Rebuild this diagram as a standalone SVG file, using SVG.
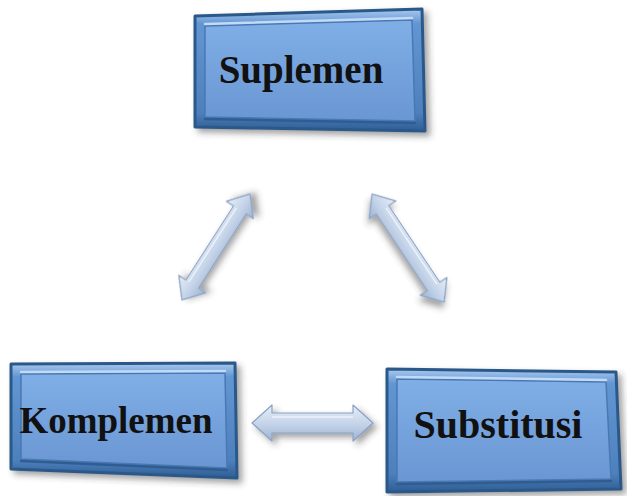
<svg xmlns="http://www.w3.org/2000/svg" width="627" height="496" viewBox="0 0 627 496">
  <defs>
    <linearGradient id="bevel" x1="0" y1="0" x2="0" y2="1">
      <stop offset="0" stop-color="#a9c9ef"/>
      <stop offset="0.12" stop-color="#6296d2"/>
      <stop offset="0.85" stop-color="#4d80bd"/>
      <stop offset="1" stop-color="#2f5d92"/>
    </linearGradient>
    <linearGradient id="face" x1="0" y1="0" x2="0" y2="1">
      <stop offset="0" stop-color="#80aee6"/>
      <stop offset="1" stop-color="#6a97d3"/>
    </linearGradient>
    <linearGradient id="arrowFill" x1="0" y1="0" x2="0" y2="1">
      <stop offset="0" stop-color="#e6eef8"/>
      <stop offset="0.5" stop-color="#c6d5ea"/>
      <stop offset="1" stop-color="#9fb4d2"/>
    </linearGradient>
    <filter id="shadow" x="-20%" y="-20%" width="140%" height="150%">
      <feDropShadow dx="4" dy="4" stdDeviation="3" flood-color="#333" flood-opacity="0.45"/>
    </filter>
  </defs>
  <style>
    .frame { fill: url(#bevel); stroke: #2c5889; stroke-width: 3; stroke-linejoin: round; filter: url(#shadow); }
    .face { fill: url(#face); stroke: #4a78b2; stroke-width: 1.5; stroke-linejoin: round; }
    .hi { fill: none; stroke: #c2daf5; stroke-width: 2.5; stroke-linecap: round; }
    .lo { fill: none; stroke: #2f5d92; stroke-width: 2.5; stroke-linecap: round; }
    .label { font-family: "Liberation Serif", "Times New Roman", serif; font-weight: bold; fill: #111; text-anchor: middle; }
    .arrow { fill: url(#arrowFill); stroke: #8aa2c3; stroke-width: 1.2; stroke-linejoin: round; filter: url(#shadow); }
    .ridge { fill: none; stroke: #f4f8fd; stroke-width: 1.5; opacity: 0.8; }
  </style>

  <g id="connectors">
    <!-- Suplemen <-> Komplemen -->
    <g transform="translate(182,300) rotate(-57.3)">
      <polygon class="arrow" points="0,0 19,-16 19,-7.5 107,-7.5 107,-16 126,0 107,16 107,7.5 19,7.5 19,16"/>
      <line class="ridge" x1="19" y1="-4" x2="107" y2="-4"/>
    </g>
    <!-- Suplemen <-> Substitusi -->
    <g transform="translate(372,194) rotate(56.3)">
      <polygon class="arrow" points="0,0 19,-16 19,-7.5 111,-7.5 111,-16 130,0 111,16 111,7.5 19,7.5 19,16"/>
      <line class="ridge" x1="19" y1="-4" x2="111" y2="-4"/>
    </g>
    <!-- Komplemen <-> Substitusi -->
    <g transform="translate(252,423)">
      <polygon class="arrow" points="0,0 20,-18 20,-10 101,-10 101,-18 121,0 101,18 101,10 20,10 20,18"/>
      <line class="ridge" x1="20" y1="-6" x2="101" y2="-6"/>
    </g>
  </g>

  <g id="suplemen">
    <polygon class="frame" points="195,16 422,9 425,131 195,127"/>
    <polygon class="face" points="205,26 412,20 415,121 205,117"/>
    <polyline class="hi" points="205,24 412,18"/>
    <polyline class="lo" points="205,119 415,123"/>
    <text class="label" x="301" y="83" font-size="39">Suplemen</text>
  </g>

  <g id="komplemen">
    <polygon class="frame" points="11,364 235,363 237,478 11,469"/>
    <polygon class="face" points="21,374 225,373 227,468 21,459"/>
    <polyline class="hi" points="21,372 225,371"/>
    <polyline class="lo" points="21,461 227,470"/>
    <text class="label" x="116" y="433" font-size="37">Komplemen</text>
  </g>

  <g id="substitusi">
    <polygon class="frame" points="387,369 616,372 621,489 387,492"/>
    <polygon class="face" points="397,379 606,382 611,479 397,482"/>
    <polyline class="hi" points="397,377 606,380"/>
    <polyline class="lo" points="397,484 611,481"/>
    <text class="label" x="498" y="438" font-size="40">Substitusi</text>
  </g>
</svg>
